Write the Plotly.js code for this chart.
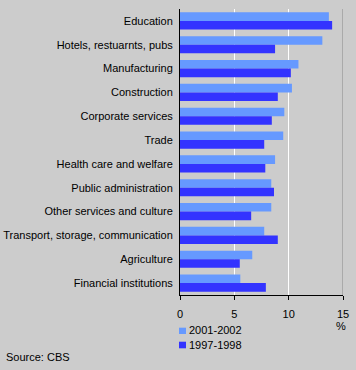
<!DOCTYPE html>
<html>
<head>
<meta charset="utf-8">
<script src="https://cdn.plot.ly/plotly-3.0.1.min.js"></script>
<style>html,body{margin:0;padding:0;background:#cccccc;}#chart{width:356px;height:370px;}</style>
</head>
<body>
<div id="chart"></div>
<script>
var categories = ["Education","Hotels, restuarnts, pubs","Manufacturing","Construction","Corporate services","Trade","Health care and welfare","Public administration","Other services and culture","Transport, storage, communication","Agriculture","Financial institutions"];
var values2001 = [13.7, 13.1, 10.9, 10.3, 9.6, 9.5, 8.75, 8.4, 8.4, 7.75, 6.65, 5.55];
var values1997 = [14.0, 8.75, 10.2, 9.0, 8.45, 7.75, 7.85, 8.65, 6.55, 9.0, 5.5, 7.9];
var seriesNames = ["2001-2002", "1997-1998"];
var seriesColors = ["#6699ff", "#3333ff"];
var xTicks = [0, 5, 10, 15];

var font = {family: "Liberation Sans, Arial, sans-serif", size: 11, color: "#000000"};

var traces = [
  {type: "bar", orientation: "h", name: seriesNames[0], y: categories, x: values2001,
   marker: {color: seriesColors[0]}, hoverinfo: "skip"},
  {type: "bar", orientation: "h", name: seriesNames[1], y: categories, x: values1997,
   marker: {color: seriesColors[1]}, hoverinfo: "skip"}
];

// legend drawn manually (compact rows, small squares as in the reference)
var legendRows = [
  {text: seriesNames[0], color: seriesColors[0], ty: -0.1241, y0: -0.1364, y1: -0.1143},
  {text: seriesNames[1], color: seriesColors[1], ty: -0.1731, y0: -0.1864, y1: -0.1633}
];

var shapes = [
  {type: "line", xref: "x", yref: "paper", x0: 15, x1: 15, y0: 0, y1: 1,
   line: {color: "#888888", width: 1}}
];
var annotations = [
  {text: "%", xref: "paper", yref: "paper", x: 0.988, y: -0.1073, xanchor: "center", yanchor: "middle",
   showarrow: false, font: font},
  {text: "Source: CBS", xref: "paper", yref: "paper", x: -1.08, y: -0.2157, xanchor: "left", yanchor: "middle",
   showarrow: false, font: font}
];
legendRows.forEach(function (r) {
  shapes.push({type: "rect", xref: "paper", yref: "paper", x0: -0.006, x1: 0.037, y0: r.y0, y1: r.y1,
               fillcolor: r.color, line: {width: 0}});
  annotations.push({text: r.text, xref: "paper", yref: "paper", x: 0.046, y: r.ty,
                    xanchor: "left", yanchor: "middle", showarrow: false, font: font});
});

var layout = {
  width: 356, height: 370,
  margin: {l: 180, r: 13, t: 9, b: 75, autoexpand: false},
  paper_bgcolor: "#cccccc",
  plot_bgcolor: "#cccccc",
  font: font,
  barmode: "group",
  bargap: 0.28,
  bargroupgap: 0,
  showlegend: false,
  xaxis: {range: [0, 15], tickvals: xTicks, ticktext: xTicks.map(String),
          showgrid: true, gridcolor: "#ffffff", gridwidth: 1,
          zeroline: false, showline: true, linecolor: "#000000", linewidth: 1,
          ticks: "outside", ticklen: 4, tickcolor: "#000000", ticklabelstandoff: 5,
          fixedrange: true, automargin: false},
  yaxis: {type: "category", autorange: "reversed", showgrid: false, zeroline: false,
          showline: true, linecolor: "#000000", linewidth: 1, ticks: "",
          ticklabelstandoff: 4, fixedrange: true, automargin: false},
  shapes: shapes,
  annotations: annotations
};

Plotly.newPlot("chart", traces, layout, {displayModeBar: false, staticPlot: true});
</script>
</body>
</html>
